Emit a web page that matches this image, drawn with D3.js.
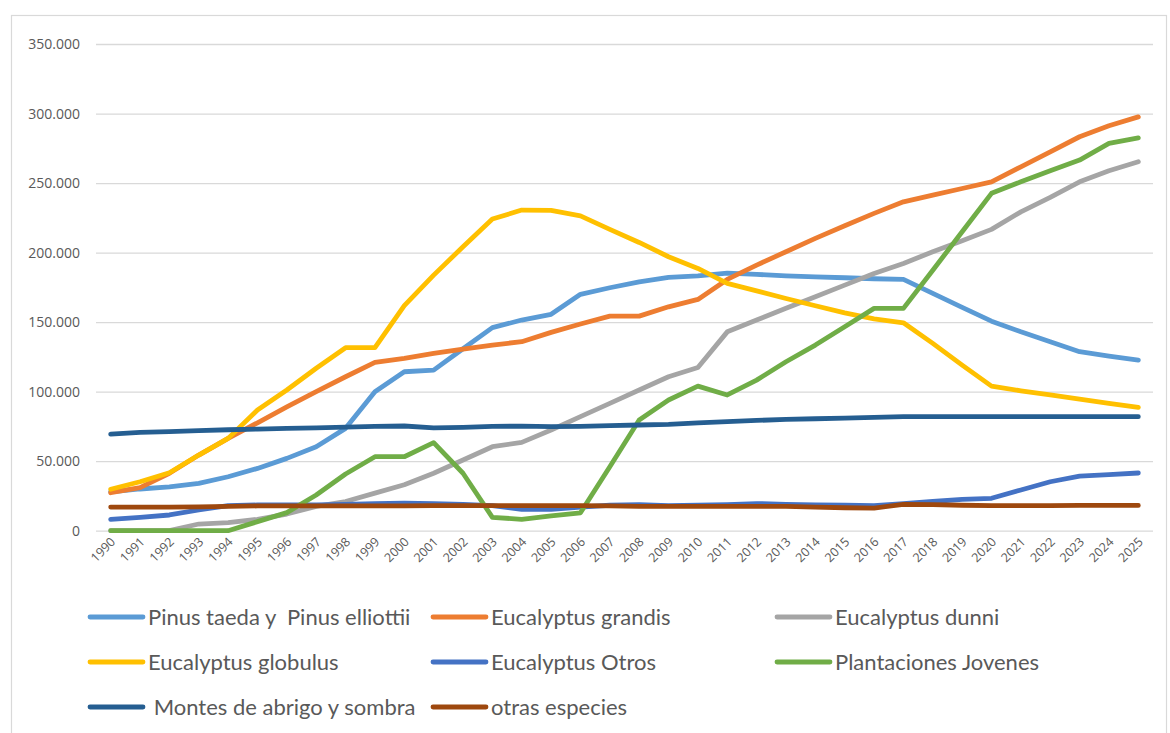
<!DOCTYPE html>
<html lang="es">
<head>
<meta charset="utf-8">
<script src="https://d3js.org/d3.v7.min.js"></script>
<style type="text/css">
body {
	margin: 0;
	background: #fff;
}
.tick text {
	fill: #595959;
}
</style>
</head>
<body>
<script type="text/javascript">

// years on the category axis
const years = d3.range(1990, 2026).map(String);

// values in hectares
const pinus = [28000, 30000, 31500, 34000, 38800, 44800, 52000, 60400, 73600, 100000,
	114300, 115500, 130800, 146000, 151500, 155600, 170000, 174700, 179000, 182200,
	183300, 185300, 184300, 183300, 182600, 181900, 181200, 180700, 170700, 160600,
	150700, 143000, 135900, 128700, 125600, 122700];
const grandis = [27300, 31000, 41300, 54400, 66400, 77600, 89000, 100000, 110700, 121000,
	124000, 127500, 130600, 133500, 135900, 142600, 148600, 154300, 154300, 161000,
	166300, 180700, 191000, 200600, 210200, 219300, 228200, 236500, 241300, 246100,
	250900, 261700, 272500, 283300, 291200, 297600];
const dunni = [0, 0, 0, 4800, 5800, 8200, 12000, 17500, 21000, 27000,
	33000, 41300, 50800, 60400, 63500, 72400, 82000, 91600, 101200, 110700,
	117400, 143000, 151500, 159900, 168200, 176600, 185000, 192200, 200600, 208500,
	216700, 229300, 239700, 250900, 258800, 265300];
const globulus = [29800, 35200, 41700, 54400, 66400, 86800, 101200, 116800, 131600, 131600,
	161800, 183800, 204200, 224100, 230600, 230300, 226400, 216700, 207300, 197000,
	188600, 177900, 172500, 167000, 161800, 156700, 152400, 149500, 134700, 119100,
	104000, 100600, 97600, 94700, 91600, 88700];
const eucOtros = [8200, 9600, 11300, 14900, 18000, 18500, 18500, 18500, 19000, 19500,
	19800, 19500, 19000, 18000, 15400, 15400, 17000, 18300, 18800, 18000,
	18300, 18800, 19500, 19000, 18500, 18300, 18000, 19500, 21000, 22500,
	23300, 29300, 35200, 39300, 40300, 41500];
const jovenes = [0, 0, 0, 0, 0, 6500, 13000, 25700, 40800, 53200,
	53200, 63300, 41300, 9600, 8200, 10600, 12900, 46000, 79600, 94000,
	104000, 97600, 108300, 121500, 133500, 146700, 159900, 159900, 187300, 215000,
	242600, 250900, 258800, 266500, 278500, 282500];
const montes = [69500, 70700, 71200, 71900, 72600, 73100, 73600, 74000, 74500, 75000,
	75300, 74000, 74300, 75000, 75200, 74800, 75000, 75500, 76000, 76500,
	77600, 78400, 79300, 80000, 80500, 81000, 81500, 82000, 82000, 82000,
	82000, 82000, 82000, 82000, 82000, 82000];
const otras = [17000, 17000, 17000, 17200, 17500, 17800, 17800, 17800, 17800, 17800,
	17800, 18000, 18000, 18000, 18000, 18000, 18000, 17800, 17500, 17500,
	17500, 17500, 17500, 17500, 17000, 16500, 16300, 19000, 18700, 18300,
	18000, 18000, 18000, 18200, 18200, 18200];

const seriesNames = ["Pinus taeda y  Pinus elliottii", "Eucalyptus grandis", "Eucalyptus dunni",
	"Eucalyptus globulus", "Eucalyptus Otros", "Plantaciones Jovenes",
	" Montes de abrigo y sombra", "otras especies"];
const seriesColors = ["#5B9BD5", "#ED7D31", "#A5A5A5", "#FFC000", "#4472C4", "#70AD47", "#255E91", "#9E480E"];
const seriesValues = [pinus, grandis, dunni, globulus, eucOtros, jovenes, montes, otras];

const yTicks = [0, 50000, 100000, 150000, 200000, 250000, 300000, 350000];

const width = 1170;
const height = 733;

const svg = d3.select("body")
	.append("svg")
	.attr("width", width)
	.attr("height", height);

// chart area border
svg.append("rect")
	.attr("x", 11.5)
	.attr("y", 15.5)
	.attr("width", 1155)
	.attr("height", 740)
	.attr("fill", "none")
	.attr("stroke", "#D9D9D9")
	.attr("stroke-width", 1.2);

const x = d3.scalePoint()
	.domain(years)
	.range([96, 1153])
	.padding(0.5);

const y = d3.scaleLinear()
	.domain([0, 350000])
	.range([530.7, 44]);

const esLocale = d3.formatLocale({decimal: ",", thousands: ".", grouping: [3], currency: ["", ""]});
const fmt = esLocale.format(",");

// horizontal gridlines + y labels
const yAxis = svg.append("g")
	.attr("transform", "translate(96,0)")
	.call(d3.axisLeft(y).tickValues(yTicks).tickFormat(fmt).tickSize(-1057).tickPadding(16));
yAxis.select(".domain").remove();
yAxis.selectAll("line")
	.attr("stroke", "#D9D9D9")
	.attr("stroke-width", 1.3);
yAxis.selectAll("text")
	.style("font-family", "'Open Sans', sans-serif")
	.style("font-size", "14px");

// x labels, rotated
const xAxis = svg.append("g")
	.attr("transform", "translate(0,530.7)")
	.call(d3.axisBottom(x).tickSize(0));
xAxis.select(".domain").remove();
xAxis.selectAll("text")
	.style("font-family", "'Open Sans', sans-serif")
	.style("font-size", "12.5px")
	.attr("text-anchor", "end")
	.attr("dy", null)
	.attr("y", 0)
	.attr("transform", "translate(5,12) rotate(-45)");

const line = d3.line()
	.x((d, i) => x(years[i]))
	.y(d => y(d));

svg.append("g")
	.selectAll("path")
	.data(seriesValues)
	.enter()
	.append("path")
	.attr("d", line)
	.attr("fill", "none")
	.attr("stroke", (d, i) => seriesColors[i])
	.attr("stroke-width", 4.8)
	.attr("stroke-linecap", "round")
	.attr("stroke-linejoin", "round");

// legend: 3 columns x 3 rows
const legendCols = [90, 433, 777];
const legendRows = [617, 662, 707];

const legend = svg.append("g")
	.selectAll("g")
	.data(seriesNames)
	.enter()
	.append("g")
	.attr("transform", (d, i) => "translate(" + legendCols[i % 3] + "," + legendRows[Math.floor(i / 3)] + ")");

legend.append("line")
	.attr("x1", 0)
	.attr("x2", 53)
	.attr("stroke", (d, i) => seriesColors[i])
	.attr("stroke-width", 4.8)
	.attr("stroke-linecap", "round");

legend.append("text")
	.attr("x", 58)
	.attr("y", 0)
	.attr("dy", "0.35em")
	.style("font-family", "Lato, sans-serif")
	.style("font-size", "22px")
	.style("white-space", "pre")
	.attr("fill", "#595959")
	.text(d => d);

</script>
</body>
</html>
